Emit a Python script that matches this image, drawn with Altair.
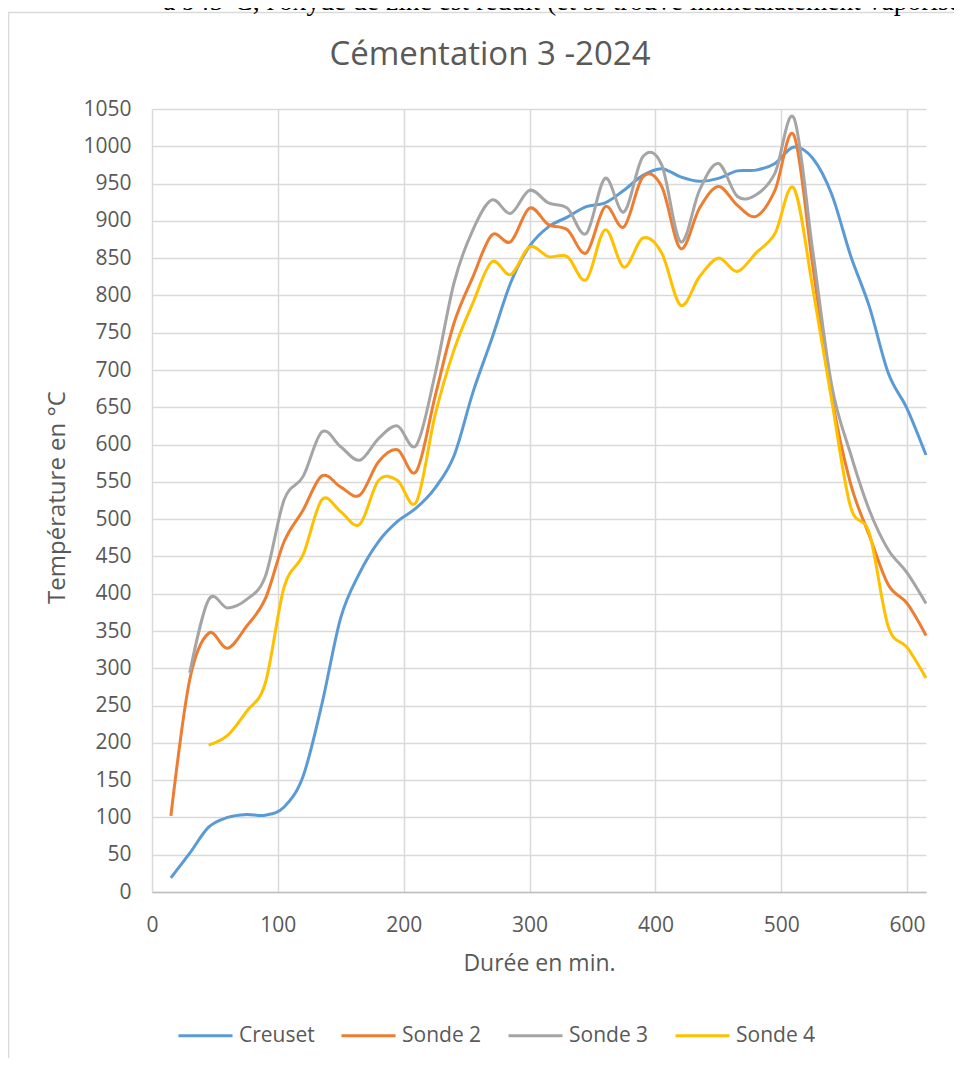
import altair as alt
import pandas as pd

# ---- data ----
times = [15, 30, 45, 60, 75, 90, 105, 120, 135, 150, 165, 180, 195, 210, 225, 240,
         255, 270, 285, 300, 315, 330, 345, 360, 375, 390, 405, 420, 435, 450, 465,
         480, 495, 510, 525, 540, 555, 570, 585, 600, 615]

creuset = [19, 52, 87, 100, 104, 103, 114, 155, 252, 368, 428, 470, 497, 515, 542, 585,
           670, 742, 817, 866, 892, 905, 919, 924, 941, 961, 970, 959, 953, 957, 967,
           968, 977, 999, 984, 936, 854, 785, 696, 648, 586]

sonde2 = [102, 285, 347, 327, 356, 393, 470, 512, 558, 543, 532, 577, 593, 564, 665, 763,
          825, 881, 872, 917, 895, 888, 857, 919, 892, 959, 946, 863, 917, 946, 921,
          906, 941, 1015, 840, 665, 548, 478, 412, 387, 344]

sonde3 = [None, 294, 392, 381, 392, 423, 526, 557, 617, 597, 579, 608, 625, 599, 695, 817,
          888, 928, 910, 941, 924, 917, 883, 957, 912, 986, 975, 872, 941, 977, 933,
          935, 964, 1038, 860, 680, 588, 512, 459, 428, 387]

sonde4 = [None, None, 197, 210, 242, 280, 409, 452, 526, 510, 493, 552, 552, 523, 640, 727,
          790, 845, 828, 865, 852, 852, 821, 888, 838, 877, 857, 787, 825, 850, 832,
          857, 883, 944, 810, 660, 517, 481, 356, 328, 287]

series_names = ["Creuset", "Sonde 2", "Sonde 3", "Sonde 4"]
series_colors = ["#5B9BD5", "#ED7D31", "#A5A5A5", "#FFC000"]
x_ticks = [0, 100, 200, 300, 400, 500, 600]
y_ticks = [0, 50, 100, 150, 200, 250, 300, 350, 400, 450, 500, 550, 600, 650, 700,
           750, 800, 850, 900, 950, 1000, 1050]

chart_title = "Cémentation 3 -2024"
page_text = "à 945°C, l'oxyde de zinc est réduit (et se trouve immédiatement vaporisé"

rows = []
for name, vals in zip(series_names, [creuset, sonde2, sonde3, sonde4]):
    for t, v in zip(times, vals):
        if v is not None:
            rows.append({"t": t, "v": v, "s": name})
df = pd.DataFrame(rows)

FONT = "Open Sans"
GREY = "#595959"

W, H = 774, 783

lines = alt.Chart(df).mark_line(interpolate="cardinal", strokeWidth=3).encode(
    x=alt.X("t:Q",
            scale=alt.Scale(domain=[0, 615], nice=False, zero=False),
            axis=alt.Axis(values=x_ticks, format="d", title="Durée en min.", grid=True,
                          gridColor="#d9d9d9", gridWidth=1.5,
                          domainColor="#bfbfbf", domainWidth=1.5, ticks=False,
                          labelFont=FONT, labelFontSize=21, labelColor=GREY,
                          labelPadding=22, labelFlush=False, labelOverlap=False,
                          titleFont=FONT, titleFontSize=23, titleColor=GREY,
                          titleFontWeight="normal", titleX=387, titleY=71,
                          titleBaseline="middle", titleAlign="center")),
    y=alt.Y("v:Q",
            scale=alt.Scale(domain=[0, 1050], nice=False),
            axis=alt.Axis(values=y_ticks, format="d", title="Température en °C", grid=True,
                          gridColor="#d9d9d9", gridWidth=1.5,
                          domain=False, ticks=False,
                          labelFont=FONT, labelFontSize=21, labelColor=GREY,
                          labelPadding=21, labelFlush=False, labelOverlap=False,
                          titleFont=FONT, titleFontSize=24, titleColor=GREY,
                          titleFontWeight="normal", titleAngle=270,
                          titleX=-95, titleY=388,
                          titleBaseline="middle", titleAlign="center")),
    color=alt.Color("s:N",
                    scale=alt.Scale(domain=series_names, range=series_colors),
                    sort=series_names,
                    legend=alt.Legend(title=None, orient="none", legendX=25, legendY=898,
                                      direction="horizontal", symbolType="stroke",
                                      symbolSize=2916, symbolStrokeWidth=3,
                                      labelFont=FONT, labelFontSize=21, labelColor=GREY,
                                      labelOffset=5, columnPadding=20, labelLimit=300)),
)

frame = alt.Chart(pd.DataFrame({"a": [0]})).mark_rect(
    filled=False, stroke="#d9d9d9", strokeWidth=1.5
).encode(x=alt.value(-143.5), x2=alt.value(820), y=alt.value(-96.5), y2=alt.value(1000))

title_text = alt.Chart(pd.DataFrame({"txt": [chart_title]})).mark_text(
    font=FONT, fontSize=33, color=GREY, align="center", baseline="middle"
).encode(text="txt:N", x=alt.value(338), y=alt.value(-54))

top_text = alt.Chart(pd.DataFrame({"txt": [page_text]})).mark_text(
    font="Liberation Serif", fontSize=27.5, color="#000000", align="left", baseline="alphabetic"
).encode(text="txt:N", x=alt.value(11), y=alt.value(-99))

chart = alt.layer(frame, lines, title_text, top_text).properties(
    width=W, height=H,
    padding={"left": 144, "top": 101, "right": 28, "bottom": 166},
    autosize=alt.AutoSizeParams(type="none"),
).configure_view(strokeWidth=0)

chart.save("out.html", embed_options={"renderer": "svg", "actions": False})
